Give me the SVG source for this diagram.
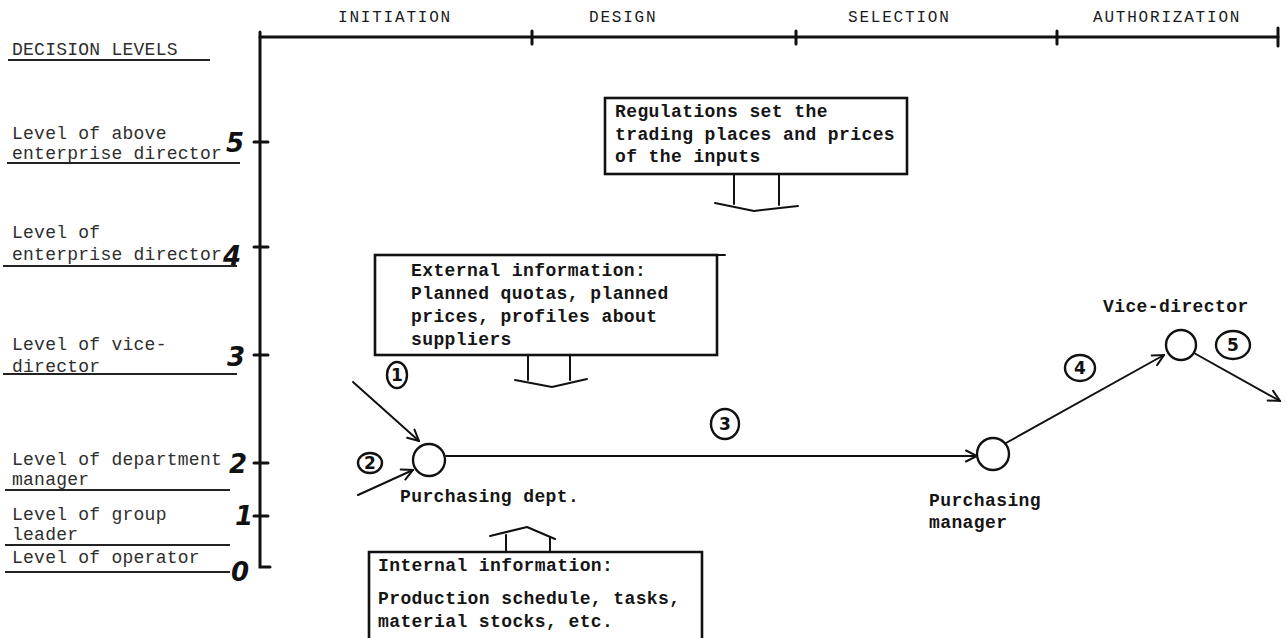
<svg xmlns="http://www.w3.org/2000/svg" width="1287" height="638" viewBox="0 0 1287 638">
  <style>
    .lv { font-family: "Liberation Mono", "DejaVu Sans Mono", monospace; font-size: 18px; letter-spacing: 0.25px; fill: #2e2e2e; }
    .bx { font-family: "Liberation Mono", "DejaVu Sans Mono", monospace; font-size: 18px; letter-spacing: 0.4px; fill: #151515; font-weight: bold; }
    .ph { font-family: "Liberation Mono", "DejaVu Sans Mono", monospace; font-size: 16px; letter-spacing: 1.8px; fill: #1a1a1a; }
    .hand { font-family: "DejaVu Sans", sans-serif; font-style: italic; font-weight: bold; font-size: 26px; fill: #111; text-anchor: middle; }
    .num { font-family: "DejaVu Sans", sans-serif; font-weight: bold; font-size: 17px; fill: #111; text-anchor: middle; }
    .ax { stroke: #111; stroke-width: 3; fill: none; stroke-linecap: round; }
    .ul { stroke: #222; stroke-width: 2.2; fill: none; }
    .box { stroke: #111; stroke-width: 2.6; fill: #fff; }
    .ln { stroke: #111; stroke-width: 2; fill: none; stroke-linecap: round; stroke-linejoin: round; }
    .nd { stroke: #111; stroke-width: 2.4; fill: #fff; }
    .ring { stroke: #111; stroke-width: 2.4; fill: none; }
  </style>
  <defs>
    <marker id="arr" viewBox="0 0 14 14" refX="13" refY="7" markerWidth="14" markerHeight="14" markerUnits="userSpaceOnUse" orient="auto">
      <path d="M2,1.5 L13,7 L2,12.5" fill="none" stroke="#111" stroke-width="2" stroke-linecap="round"/>
    </marker>
  </defs>

  <rect width="1287" height="638" fill="#fff"/>

  <!-- axes -->
  <g id="axes">
    <path class="ax" d="M260,32 V567 H270"/>
    <path class="ax" d="M260,37 H1278"/>
    <path class="ax" d="M532,31 V44 M796,31 V44 M1057,31 V44 M1278,28 V46" stroke-width="2"/>
    <path class="ax" d="M254,142 H268 M254,247 H268 M254,355 H268 M254,463 H268 M254,516 H268" stroke-width="2"/>
  </g>

  <!-- phase headings -->
  <g id="phases">
    <text class="ph" x="338" y="22">INITIATION</text>
    <text class="ph" x="589" y="22">DESIGN</text>
    <text class="ph" x="848" y="22">SELECTION</text>
    <text class="ph" x="1093" y="22">AUTHORIZATION</text>
  </g>

  <!-- decision levels -->
  <g id="levels">
    <text class="lv" x="12" y="55">DECISION LEVELS</text>
    <path class="ul" d="M8,60 H210"/>

    <text class="lv" x="12" y="139">Level of above</text>
    <text class="lv" x="12" y="159">enterprise director</text>
    <path class="ul" d="M7,163 H240"/>
    <text class="hand" x="235" y="152">5</text>

    <text class="lv" x="12" y="238">Level of</text>
    <text class="lv" x="12" y="260">enterprise director</text>
    <path class="ul" d="M3,266 H237"/>
    <text class="hand" x="232" y="265">4</text>

    <text class="lv" x="12" y="350">Level of vice-</text>
    <text class="lv" x="12" y="372">director</text>
    <path class="ul" d="M3,374 H237"/>
    <text class="hand" x="236" y="366">3</text>

    <text class="lv" x="12" y="465">Level of department</text>
    <text class="lv" x="12" y="485">manager</text>
    <path class="ul" d="M5,490 H230"/>
    <text class="hand" x="238" y="473">2</text>

    <text class="lv" x="12" y="520">Level of group</text>
    <text class="lv" x="12" y="540">leader</text>
    <path class="ul" d="M5,545 H230"/>
    <text class="hand" x="244" y="525">1</text>

    <text class="lv" x="12" y="563">Level of operator</text>
    <path class="ul" d="M5,572 H230"/>
    <text class="hand" x="240" y="581">0</text>
  </g>

  <!-- information boxes -->
  <g id="regulations">
    <rect class="box" x="605" y="98" width="302" height="76"/>
    <text class="bx" x="615" y="117">Regulations set the</text>
    <text class="bx" x="615" y="140">trading places and prices</text>
    <text class="bx" x="615" y="162">of the inputs</text>
    <path class="ln" d="M734,175 V204 M779,175 V205 M715,203 L754,211 L798,206" stroke-width="2.4"/>
  </g>

  <g id="external-info">
    <rect class="box" x="375" y="255" width="342" height="100"/>
    <path class="ln" d="M717,255 H725" stroke-width="2.4"/>
    <text class="bx" x="411" y="276">External information:</text>
    <text class="bx" x="411" y="299">Planned quotas, planned</text>
    <text class="bx" x="411" y="322">prices, profiles about</text>
    <text class="bx" x="411" y="345">suppliers</text>
    <path class="ln" d="M528,356 V380 M570,356 V380 M515,380 L552,387 L587,379" stroke-width="2.4"/>
  </g>

  <g id="internal-info">
    <path class="box" d="M369,645 V552 H702 V645"/>
    <text class="bx" x="378" y="571">Internal information:</text>
    <text class="bx" x="378" y="604">Production schedule, tasks,</text>
    <text class="bx" x="378" y="627">material stocks, etc.</text>
    <path class="ln" d="M506,551 V535 M550,551 V537 M490,536 L527,527 L555,539" stroke-width="2.4"/>
  </g>

  <!-- nodes -->
  <g id="purchasing-dept">
    <circle class="nd" cx="429" cy="460" r="16"/>
    <text class="bx" x="400" y="502">Purchasing dept.</text>
  </g>
  <g id="purchasing-manager">
    <circle class="nd" cx="993" cy="454" r="16"/>
    <text class="bx" x="929" y="506">Purchasing</text>
    <text class="bx" x="929" y="528">manager</text>
  </g>
  <g id="vice-director">
    <circle class="nd" cx="1181" cy="345" r="15"/>
    <text class="bx" x="1103" y="312">Vice-director</text>
  </g>

  <!-- connectors -->
  <g id="connectors">
    <path class="ln" d="M353,382 L419,441" marker-end="url(#arr)"/>
    <path class="ln" d="M358,495 L413,470" marker-end="url(#arr)"/>
    <path class="ln" d="M446,456 L977,456" marker-end="url(#arr)"/>
    <path class="ln" d="M1006,443 L1164,355" marker-end="url(#arr)"/>
    <path class="ln" d="M1194,353 L1280,401" marker-end="url(#arr)"/>
  </g>

  <!-- step numbers -->
  <g id="step-labels">
    <ellipse class="ring" cx="397" cy="375" rx="10" ry="13"/>
    <text class="num" x="397" y="381">1</text>
    <ellipse class="ring" cx="370" cy="463" rx="12" ry="10"/>
    <text class="num" x="370" y="469">2</text>
    <ellipse class="ring" cx="725" cy="424" rx="14" ry="15"/>
    <text class="num" x="725" y="430">3</text>
    <ellipse class="ring" cx="1080" cy="368" rx="15" ry="13"/>
    <text class="num" x="1080" y="374">4</text>
    <ellipse class="ring" cx="1233" cy="345" rx="17" ry="14"/>
    <text class="num" x="1233" y="351">5</text>
  </g>
</svg>
